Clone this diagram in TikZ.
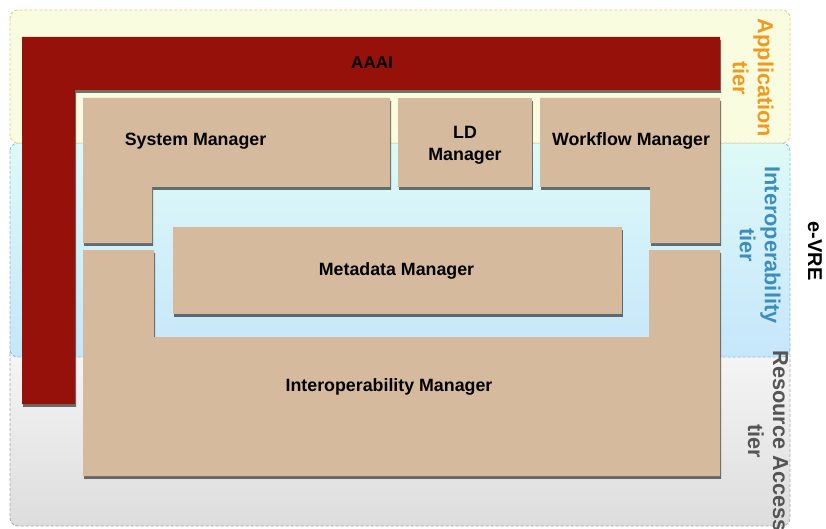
\documentclass[tikz,border=0pt]{standalone}
\usepackage{fontspec}
\setmainfont{Liberation Sans}
\usetikzlibrary{shadows}
\definecolor{aaaired}{HTML}{961109}
\definecolor{mgrfill}{HTML}{D6BA9E}
\definecolor{appfill}{HTML}{F9FCDF}
\definecolor{appdraw}{HTML}{F3C57E}
\definecolor{apptext}{HTML}{F0991E}
\definecolor{iotop}{HTML}{DEFAF7}
\definecolor{iobot}{HTML}{C6E6FB}
\definecolor{iodraw}{HTML}{86BEDC}
\definecolor{iotext}{HTML}{3C8DC0}
\definecolor{ratop}{HTML}{F6F6F6}
\definecolor{rabot}{HTML}{DDDDDD}
\definecolor{radraw}{HTML}{A8A8A8}
\definecolor{ratext}{HTML}{555555}
\tikzset{
  tierbox/.style={dashed, line width=0.8pt, rounded corners=8pt, dash pattern=on 3pt off 2pt},
  shad/.style={drop shadow={shadow xshift=1.2pt, shadow yshift=-2.8pt, opacity=0.55, fill=black}},
  block/.style={fill=mgrfill, shad},
  lbl/.style={font=\fontsize{17.8}{22}\selectfont\bfseries, text=black, align=center},
  tierlbl/.style={font=\fontsize{21.7}{25}\selectfont\bfseries, align=center, rotate=-90, inner sep=0pt}
}
\begin{document}
\begin{tikzpicture}[x=1pt,y=-1pt]
\useasboundingbox (0,0) rectangle (826,529);
% tiers
\path[tierbox, draw=radraw, top color=ratop, bottom color=rabot] (10,345) rectangle (790,526);
\path[tierbox, draw=iodraw, top color=iotop, bottom color=iobot] (10,143) rectangle (790,357);
\path[tierbox, draw=appdraw, fill=appfill] (10,10) rectangle (790,143);
% AAAI
\path[fill=aaaired, shad] (22,37) -- (720,37) -- (720,90) -- (75,90) -- (75,404) -- (22,404) -- cycle;
\node[lbl, font=\fontsize{17}{20}\selectfont\bfseries] (aaai) at (372,63) {AAAI};
% Interoperability Manager
\path[block] (83,250) -- (154,250) -- (154,337) -- (649,337) -- (649,250) -- (720,250) -- (720,476) -- (83,476) -- cycle;
\node[lbl] (iom) at (389,387) {Interoperability Manager};
% System Manager
\path[block] (83,98) -- (390,98) -- (390,187) -- (152,187) -- (152,243) -- (83,243) -- cycle;
\node[lbl] (sm) at (195.5,141) {System Manager};
% LD Manager
\path[block] (398,98) rectangle (532,187);
\node[lbl] (ld) at (465,145) {LD\\Manager};
% Workflow Manager
\path[block] (540,98) -- (720,98) -- (720,243) -- (650,243) -- (650,187) -- (540,187) -- cycle;
\node[lbl] (wm) at (631,141) {Workflow Manager};
% Metadata Manager
\path[block] (173,227) rectangle (622,314);
\node[lbl] (mm) at (396.5,271) {Metadata Manager};
% tier labels
\node[tierlbl, text=apptext] (app) at (753,78) {Application\\tier};
\node[tierlbl, text=iotext] (iot) at (760,245) {Interoperability\\tier};
\node[tierlbl, text=ratext] (rat) at (768,441) {Resource Access\\tier};
\node[tierlbl, text=black, font=\fontsize{20}{24}\selectfont\bfseries] (evre) at (815,251) {e-VRE};
\end{tikzpicture}
\end{document}
